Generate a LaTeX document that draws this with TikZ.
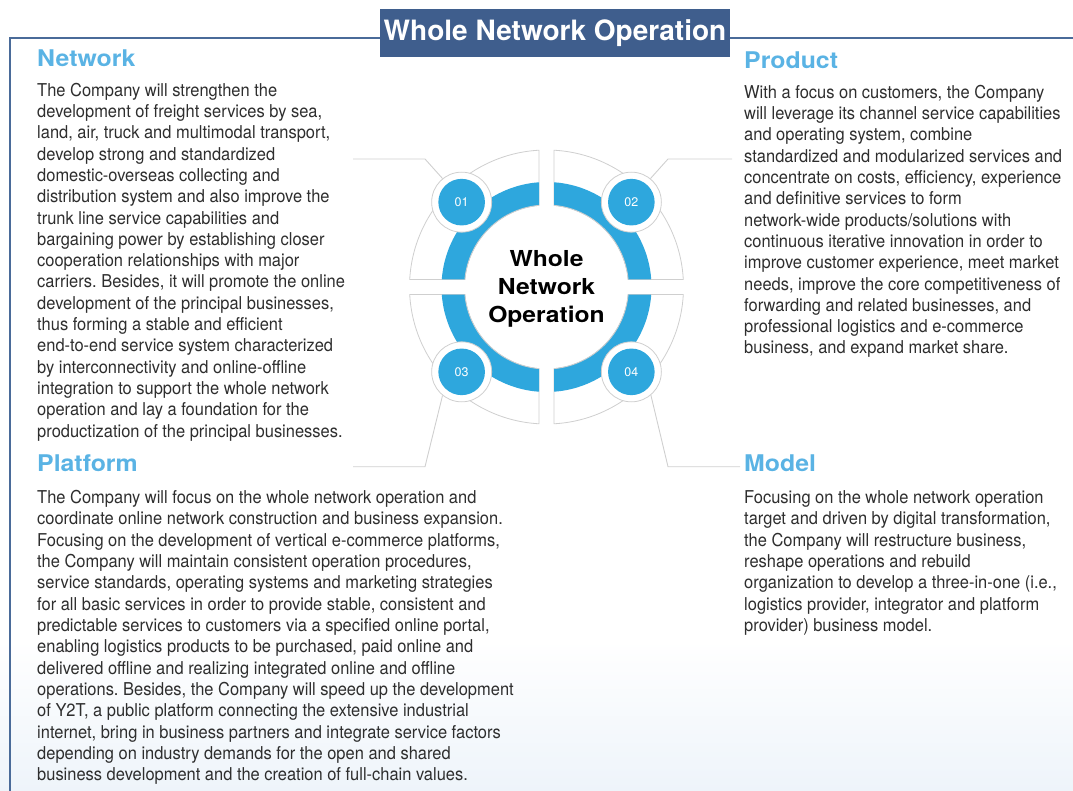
\documentclass[tikz,border=0pt]{standalone}
\usepackage{fontspec}
\setmainfont{TeX Gyre Heros}
\newfontfamily\bodyfont[FakeStretch=0.93]{TeX Gyre Heros}
\newfontfamily\headfont[FakeStretch=1.08]{TeX Gyre Heros}
\newfontfamily\corefont[FakeStretch=1.12]{TeX Gyre Heros}
\newfontfamily\titlefont{TeX Gyre Heros}
\definecolor{titleblue}{HTML}{3F5E8D}
\definecolor{frameblue}{HTML}{4A6B99}
\definecolor{headblue}{HTML}{5AB3E4}
\definecolor{ringblue}{HTML}{2EA7DD}
\definecolor{linegrey}{HTML}{CFCFCF}
\definecolor{bodygrey}{HTML}{2E2E2E}
\definecolor{bgblue}{HTML}{EEF4FA}
\frenchspacing
\begin{document}
\begin{tikzpicture}[x=1pt,y=1pt,yscale=-1,
  body/.style={anchor=base west, align=left, inner sep=0, text=bodygrey,
    font=\bodyfont\frenchspacing\fontsize{17.7}{21.33}\selectfont},
  head/.style={anchor=base west, inner sep=0, text=headblue,
    font=\headfont\bfseries\fontsize{23}{27}\selectfont},
  titlebox/.style={fill=titleblue, text=white, minimum width=350pt, minimum height=47.7pt,
    inner sep=0, font=\titlefont\bfseries\fontsize{28}{30}\selectfont},
  frame/.style={draw=frameblue, line width=2.5pt},
  sector/.style={fill=white, draw=linegrey, line width=0.8pt},
  bump/.style={circle, draw=linegrey, fill=white, line width=0.8pt, minimum size=60pt, inner sep=0},
  num/.style={circle, fill=ringblue, minimum size=46.6pt, inner sep=0, text=white,
    font=\fontsize{12.5}{13}\selectfont},
  conn/.style={draw=linegrey, line width=0.9pt},
  core/.style={align=center, inner sep=0, text=black,
    font=\corefont\bfseries\fontsize{22}{27.8}\selectfont}]
\useasboundingbox (0,0) rectangle (1073,791);
\shade[top color=white, bottom color=bgblue] (0,640) rectangle (1073,791);

% frame
\draw[frame] (10,791) -- (10,38) -- (380,38);
\draw[frame] (730,38) -- (1073,38);
\node[titlebox] (title) at (555,33) {Whole Network Operation};

% central ring
\begin{scope}[shift={(546.5,287)}]
  \foreach \r in {0,90,180,270}{
    \begin{scope}[rotate=\r]
      \path[sector] (5.25:82) -- (3.14:137) arc[start angle=3.14, end angle=86.86, radius=137]
        -- (84.75:82) arc[start angle=84.75, end angle=5.25, radius=82] -- cycle;
      \fill[ringblue] (5.25:82) -- (4.10:105) arc[start angle=4.10, end angle=85.90, radius=105]
        -- (84.75:82) arc[start angle=84.75, end angle=5.25, radius=82] -- cycle;
      \draw[linegrey, line width=0.8pt] (84.75:82) arc[start angle=84.75, end angle=5.25, radius=82];
    \end{scope}
  }
\end{scope}

\node[bump] (b1) at (461.65,202.15) {};
\node[bump] (b2) at (631.35,202.15) {};
\node[bump] (b3) at (461.65,371.85) {};
\node[bump] (b4) at (631.35,371.85) {};
\node[num] (n1) at (b1) {01};
\node[num] (n2) at (b2) {02};
\node[num] (n3) at (b3) {03};
\node[num] (n4) at (b4) {04};

\node[core] (core) at (546.5,289) {Whole\\Network\\Operation};

% connectors
\coordinate (k1) at (425,159);   \coordinate (e1) at (353,159);
\coordinate (k2) at (668,159);   \coordinate (e2) at (732,159);
\coordinate (k3) at (425,466.7); \coordinate (e3) at (353,466.7);
\coordinate (k4) at (668,466.7); \coordinate (e4) at (740,466.7);
\draw[conn] (b1.129) -- (k1) -- (e1);
\draw[conn] (b2.51) -- (k2) -- (e2);
\draw[conn] (b3.231) -- (k3) -- (e3);
\draw[conn] (b4.310) -- (k4) -- (e4);

% headings
\node[head] (hnet) at (37,66.7) {Network};
\node[head] (hprod) at (744,68.3) {Product};
\node[head] (hplat) at (37,471.5) {Platform};
\node[head] (hmod) at (744,471.5) {Model};

% texts (anchor = baseline of the last line)
\node[body] (tnet) at (37,437.3) {The Company will strengthen the\\
development of freight services by sea,\\
land, air, truck and multimodal transport,\\
develop strong and standardized\\
domestic-overseas collecting and\\
distribution system and also improve the\\
trunk line service capabilities and\\
bargaining power by establishing closer\\
cooperation relationships with major\\
carriers. Besides, it will promote the online\\
development of the principal businesses,\\
thus forming a stable and efficient\\
end-to-end service system characterized\\
by interconnectivity and online-offline\\
integration to support the whole network\\
operation and lay a foundation for the\\
productization of the principal businesses.};

\node[body] (tprod) at (744,354) {With a focus on customers, the Company\\
will leverage its channel service capabilities\\
and operating system, combine\\
standardized and modularized services and\\
concentrate on costs, efficiency, experience\\
and definitive services to form\\
network-wide products/solutions with\\
continuous iterative innovation in order to\\
improve customer experience, meet market\\
needs, improve the core competitiveness of\\
forwarding and related businesses, and\\
professional logistics and e-commerce\\
business, and expand market share.};

\node[body] (tplat) at (37,780.8) {The Company will focus on the whole network operation and\\
coordinate online network construction and business expansion.\\
Focusing on the development of vertical e-commerce platforms,\\
the Company will maintain consistent operation procedures,\\
service standards, operating systems and marketing strategies\\
for all basic services in order to provide stable, consistent and\\
predictable services to customers via a specified online portal,\\
enabling logistics products to be purchased, paid online and\\
delivered offline and realizing integrated online and offline\\
operations. Besides, the Company will speed up the development\\
of Y2T, a public platform connecting the extensive industrial\\
internet, bring in business partners and integrate service factors\\
depending on industry demands for the open and shared\\
business development and the creation of full-chain values.};

\node[body] (tmod) at (744,631.5) {Focusing on the whole network operation\\
target and driven by digital transformation,\\
the Company will restructure business,\\
reshape operations and rebuild\\
organization to develop a three-in-one (i.e.,\\
logistics provider, integrator and platform\\
provider) business model.};
\end{tikzpicture}
\end{document}
